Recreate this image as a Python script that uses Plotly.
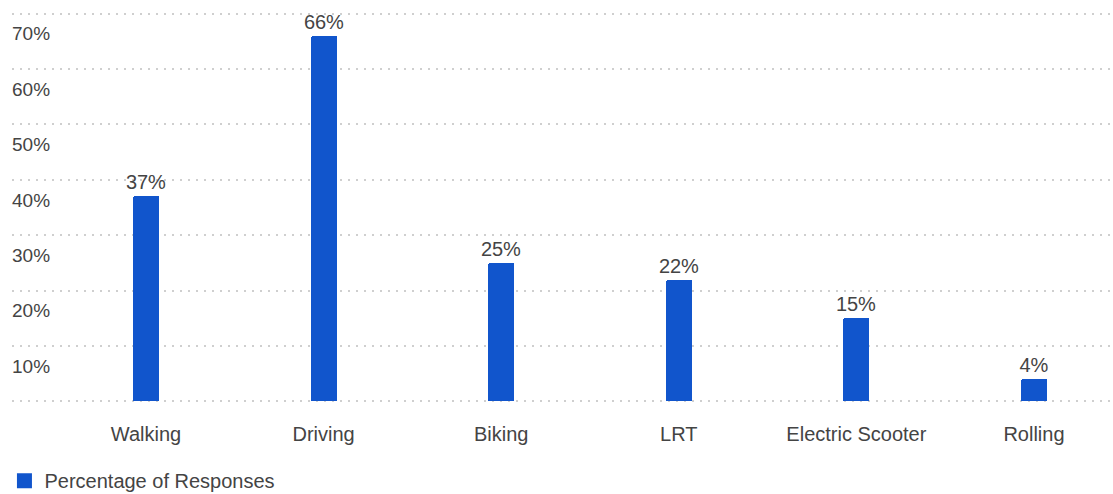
import plotly.graph_objects as go

categories = ["Walking", "Driving", "Biking", "LRT", "Electric Scooter", "Rolling"]
values = [37, 66, 25, 22, 15, 4]
series_name = "Percentage of Responses"
y_tick_values = [0, 10, 20, 30, 40, 50, 60, 70]
y_tick_labels = ["", "10%", "20%", "30%", "40%", "50%", "60%", "70%"]

FONT = "Liberation Sans, Arial, sans-serif"
TEXT_COLOR = "#444444"
BAR_COLOR = "#1155CC"

fig = go.Figure()
fig.add_trace(go.Bar(
    x=list(range(len(categories))),
    y=values,
    name=series_name,
    marker=dict(color=BAR_COLOR, cornerradius=2, line=dict(width=0)),
    width=0.146,
    text=[f"{v}%" for v in values],
    textposition="outside",
    constraintext="none",
    textfont=dict(family=FONT, size=20, color=TEXT_COLOR),
    cliponaxis=False,
    showlegend=False,
))
# legend entry (square swatch) for the series
fig.add_trace(go.Scatter(
    x=[None], y=[None],
    mode="markers",
    name=series_name,
    marker=dict(symbol="square", size=15, color=BAR_COLOR),
    showlegend=True,
    hoverinfo="skip",
))

fig.update_layout(
    width=1113,
    height=494,
    autosize=False,
    margin=dict(l=12, r=0, t=1, b=90.5, autoexpand=False),
    paper_bgcolor="white",
    plot_bgcolor="white",
    font=dict(family=FONT, size=20, color=TEXT_COLOR),
    showlegend=True,
    legend=dict(
        orientation="h",
        xref="container", yref="container",
        x=0.004, xanchor="left",
        y=0.027, yanchor="middle",
        font=dict(family=FONT, size=20, color=TEXT_COLOR),
        bgcolor="rgba(0,0,0,0)",
        itemsizing="trace",
    ),
    xaxis=dict(
        range=[-0.7545, 5.445],
        tickmode="array",
        tickvals=list(range(len(categories))),
        ticktext=categories,
        showgrid=False,
        zeroline=False,
        showline=False,
        ticks="",
        ticklabelstandoff=17,
        automargin=False,
        tickfont=dict(family=FONT, size=20, color=TEXT_COLOR),
        fixedrange=True,
    ),
    yaxis=dict(
        range=[-0.3, 72.3],
        tickmode="array",
        tickvals=y_tick_values,
        ticktext=y_tick_labels,
        showgrid=True,
        gridcolor="#cfcfcf",
        gridwidth=2,
        griddash="2px,6px",
        zeroline=False,
        showline=False,
        ticks="",
        ticklabelposition="inside",
        ticklabeloverflow="allow",
        ticklabelshift=20,
        ticklabelstandoff=-3,
        automargin=False,
        tickfont=dict(family=FONT, size=19, color=TEXT_COLOR),
        fixedrange=True,
    ),
    bargap=0,
)

fig.write_html(
    "out.html",
    config={"displayModeBar": False},
    post_script="document.body.style.margin='0';",
)
